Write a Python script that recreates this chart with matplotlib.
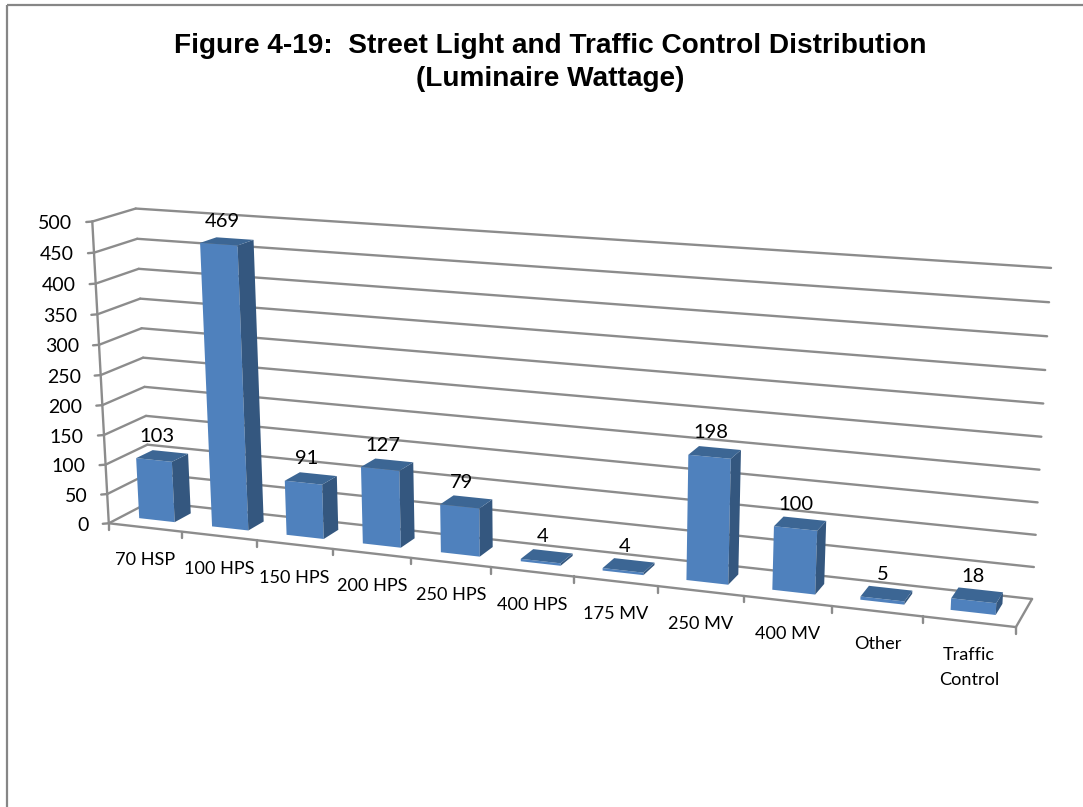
import numpy as np
import matplotlib
matplotlib.use("Agg")
from matplotlib import pyplot as plt
from matplotlib.patches import Polygon, Rectangle

categories = ["70 HSP", "100 HPS", "150 HPS", "200 HPS", "250 HPS", "400 HPS",
              "175 MV", "250 MV", "400 MV", "Other", "Traffic\nControl"]
values = [103, 469, 91, 127, 79, 4, 4, 198, 100, 5, 18]
y_ticks = [0, 50, 100, 150, 200, 250, 300, 350, 400, 450, 500]
title = "Figure 4-19:  Street Light and Traffic Control Distribution\n(Luminaire Wattage)"

GRID = "#8c8c8c"
FRONT = "#4f81bd"
SIDE = "#34577f"
TOP = "#3c6694"
ymax = y_ticks[-1]
n = len(categories)

# box corners of the 3d chart: (category, depth, height) -> pixel
corners = [((0, 0, 0), (109, 522)), ((0, 0, 1), (92, 222)),
           ((0, 1, 0), (150, 503)), ((0, 1, 1), (136, 208)),
           ((1, 1, 0), (1032, 598)), ((1, 1, 1), (1051, 268)),
           ((1, 0, 0), (1016, 628))]


def fit_camera(pairs):
    A, b = [], []
    for (x, y, z), (px, py) in pairs:
        A.append([x, y, z, 1, 0, 0, 0, 0, -px * x, -px * y, -px * z])
        A.append([0, 0, 0, 0, x, y, z, 1, -py * x, -py * y, -py * z])
        b += [px, py]
    m = np.linalg.lstsq(np.array(A, float), np.array(b, float), rcond=None)[0]
    return np.append(m, 1).reshape(3, 4)


cam = fit_camera(corners)


def proj(cat, depth, val):
    # cat in category units, val in chart units
    p = cam @ np.array([cat / n, depth, val / ymax, 1.0])
    return p[0] / p[2], p[1] / p[2]


fig = plt.figure(figsize=(10.83, 8.07), dpi=100)
ax = fig.add_axes([0, 0, 1, 1])
ax.set_xlim(0, 1083)
ax.set_ylim(807, 0)
ax.axis("off")

# chart frame
ax.add_patch(Rectangle((7, 5), 1200, 1000, fill=False, ec="#868686", lw=1.6))


def line(a, b, lw=1.7):
    ax.plot([a[0], b[0]], [a[1], b[1]], color=GRID, lw=lw, solid_capstyle="round", zorder=1)


# gridlines on left wall and back wall
for t in y_ticks:
    a = proj(0, 0, t)
    b = proj(0, 1, t)
    c = proj(n, 1, t)
    line(a, b)
    line(b, c)
    line(a, (a[0] - 6, a[1] + 0.5))
    ax.text(a[0] - 20, a[1] + 2, str(t), ha="right", va="center", family="Lato",
            fontsize=14, color="black")

# floor edges and axis
line(proj(0, 0, 0), proj(0, 0, ymax))
line(proj(0, 0, 0), proj(n, 0, 0))
line(proj(n, 0, 0), proj(n, 1, 0))
for i in range(n + 1):
    a = proj(i, 0, 0)
    line(a, (a[0], a[1] + 6.5))

bar_l, bar_r = 0.235, 0.725
d0, d1 = 0.32, 0.72

for i, v in enumerate(values):
    xl, xr = i + bar_l, i + bar_r
    ax.add_patch(Polygon([proj(xl, d0, 0), proj(xr, d0, 0), proj(xr, d0, v), proj(xl, d0, v)],
                         fc=FRONT, ec="none", zorder=3))
    ax.add_patch(Polygon([proj(xr, d0, 0), proj(xr, d1, 0), proj(xr, d1, v), proj(xr, d0, v)],
                         fc=SIDE, ec="none", zorder=3))
    ax.add_patch(Polygon([proj(xl, d0, v), proj(xr, d0, v), proj(xr, d1, v), proj(xl, d1, v)],
                         fc=TOP, ec="none", zorder=3))

    top = proj(i + 0.5, 0.5, v)
    ax.text(top[0] - 5.5, top[1] - 20, str(v), ha="center", va="center", family="Lato",
            fontsize=14.5, color="black", zorder=4)

    edge = proj(i + 0.5, 0, 0)
    ax.text(edge[0], edge[1] + 25, categories[i], ha="center", va="top", family="Lato",
            fontsize=13.1, color="black", linespacing=1.75)

ax.text(550, 62.5, title, ha="center", va="center", family="Liberation Sans",
        fontweight="bold", fontsize=20.2, color="black", linespacing=1.38)

fig.savefig("out.png", dpi=100)
